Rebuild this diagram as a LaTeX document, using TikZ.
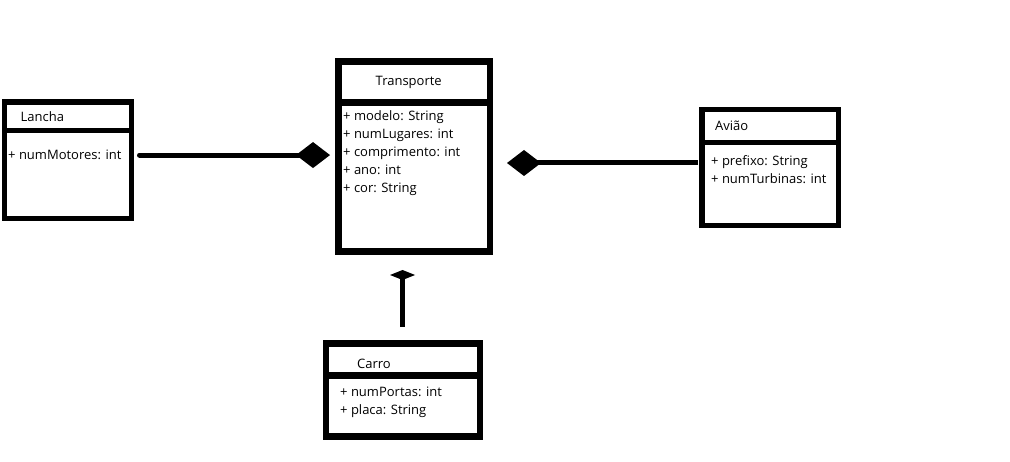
\documentclass[tikz,border=0pt]{standalone}
\usepackage{fontspec}
\setmainfont{Open Sans}
\usetikzlibrary{positioning,arrows.meta}

\tikzset{
  classhead/.style={draw, rectangle, line width=5.5, outer sep=0, inner sep=0},
  classbody/.style={classhead, anchor=north},
  classname/.style={anchor=west, inner sep=0, font=\fontsize{13}{15}\selectfont},
  attrs/.style={anchor=north west, align=left, inner sep=0, font=\fontsize{13}{18}\selectfont},
  assoc/.style={line width=5, line cap=round, -{Diamond[length=34pt,width=26pt,line width=0pt]}},
}

\begin{document}
\begin{tikzpicture}[x=1pt, y=-1pt]
  \useasboundingbox (0,0) rectangle (1010,462);

  % Transporte
  \node[classhead, line width=6.5, minimum width=151.5, minimum height=41] (transportehead) at (414.25,82) {};
  \node[classbody, line width=6.5, minimum width=151.5, minimum height=149] (transporte) at (transportehead.south) {};
  \node[classname, right=37pt of transportehead.west] (transportename) {Transporte};
  \node[attrs] (transporteattrs) at ([xshift=4.5, yshift=-7.5]transporte.north west)
    {+ modelo: String\\+ numLugares: int\\+ comprimento: int\\+ ano: int\\+ cor: String};

  % Lancha
  \node[classhead, minimum width=127, minimum height=28.5] (lanchahead) at (68,116.25) {};
  \node[classbody, minimum width=127, minimum height=88] (lancha) at (lanchahead.south) {};
  \node[classname, right=16pt of lanchahead.west] (lanchaname) {Lancha};
  \node[attrs] (lanchaattrs) at ([xshift=3.5, yshift=-19.5]lancha.north west) {+ numMotores: int};

  % Aviao
  \node[classhead, minimum width=136.5, minimum height=33] (aviaohead) at (770.25,126) {};
  \node[classbody, minimum width=136.5, minimum height=83] (aviao) at (aviaohead.south) {};
  \node[classname, right=13pt of aviaohead.west] (aviaoname) {Avião};
  \node[attrs] (aviaoattrs) at ([xshift=9, yshift=-12.5]aviao.north west)
    {+ prefixo: String\\+ numTurbinas: int};

  % Carro
  \node[classhead, line width=6.5, minimum width=154, minimum height=32] (carrohead) at (403,359.5) {};
  \node[classbody, line width=6.5, minimum width=154, minimum height=61] (carro) at (carrohead.south) {};
  \node[classname, right=31pt of carrohead.west, yshift=-4.5] (carroname) {Carro};
  \node[attrs] (carroattrs) at ([xshift=14, yshift=-11.5]carro.north west)
    {+ numPortas: int\\+ placa: String};

  % composicoes
  \draw[assoc, shorten <=8, shorten >=8.5] (lancha.east |- lanchaattrs.east) -- (transporte.west |- lanchaattrs.east);
  \coordinate (aviaolink) at ([yshift=-20.5]aviao.north west);
  \draw[assoc, line cap=butt, shorten <=4, shorten >=17] (aviaolink) -- (aviaolink -| transporte.east);
  \coordinate (carrolink) at ([xshift=-0.5]carrohead.north);
  \draw[assoc, line cap=butt, -{Diamond[length=10pt,width=25pt,line width=0pt]}, shorten <=16.5, shorten >=18.5]
    (carrolink) -- (carrolink |- transporte.south);
\end{tikzpicture}
\end{document}
